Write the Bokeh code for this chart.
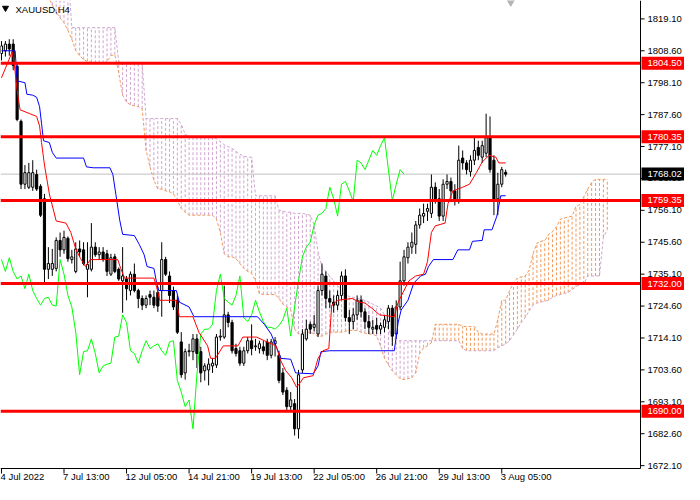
from bokeh.plotting import figure
from bokeh.models import Range1d
from bokeh.core.properties import value
from bokeh.embed import file_html
from bokeh.resources import INLINE

FONT = "Liberation Sans"

symbol = "XAUUSD,H4"

opens = [1807.7, 1808.6, 1810.8, 1810.8, 1803.5, 1785.4, 1764.7, 1763.7, 1763.7, 1767.9,
         1764.0, 1759.9, 1736.7, 1736.7, 1737.0, 1746.2, 1743.1, 1746.9, 1739.9, 1736.0,
         1743.4, 1743.1, 1736.7, 1736.7, 1744.0, 1741.5, 1742.4, 1741.8, 1735.1, 1740.8,
         1736.7, 1732.9, 1733.5, 1729.7, 1735.1, 1729.7, 1727.1, 1724.9, 1728.4, 1727.5,
         1729.1, 1729.7, 1739.9, 1734.5, 1729.7, 1726.5, 1712.8, 1702.6, 1709.6, 1709.6,
         1713.8, 1709.6, 1703.3, 1703.6, 1704.9, 1705.2, 1714.4, 1714.4, 1721.7, 1719.2,
         1710.6, 1709.9, 1705.8, 1709.9, 1713.2, 1711.2, 1710.6, 1711.2, 1712.8, 1708.4,
         1712.2, 1708.4, 1702.6, 1696.9, 1691.5, 1692.5, 1684.2, 1703.6, 1713.8, 1718.6,
         1717.6, 1715.4, 1729.7, 1734.5, 1727.1, 1725.9, 1724.9, 1728.1, 1734.5, 1720.8,
         1719.5, 1721.7, 1726.5, 1722.7, 1719.5, 1717.0, 1718.2, 1717.0, 1717.6, 1719.5,
         1723.9, 1715.4, 1724.3, 1732.9, 1740.5, 1744.0, 1744.9, 1751.3, 1754.2, 1755.8,
         1755.1, 1763.7, 1759.9, 1754.2, 1764.7, 1765.6, 1762.5, 1759.3, 1773.3, 1771.7,
         1768.8, 1772.6, 1776.8, 1773.6, 1774.9, 1780.0, 1772.6, 1759.9, 1764.7, 1768.6]

highs = [1811.8, 1811.8, 1812.4, 1812.4, 1804.5, 1786.0, 1771.0, 1771.7, 1772.6, 1769.5,
         1764.7, 1761.5, 1744.0, 1743.4, 1747.2, 1748.8, 1749.4, 1747.5, 1743.1, 1745.6,
         1746.2, 1745.6, 1745.6, 1751.9, 1745.6, 1744.0, 1744.0, 1743.1, 1741.8, 1741.8,
         1737.3, 1744.0, 1734.5, 1736.0, 1738.6, 1730.3, 1728.1, 1728.1, 1729.7, 1729.7,
         1731.0, 1745.6, 1740.8, 1736.0, 1731.0, 1728.1, 1716.0, 1710.6, 1712.2, 1715.4,
         1715.4, 1711.2, 1705.8, 1707.4, 1707.4, 1715.4, 1717.0, 1731.3, 1722.7, 1720.1,
         1712.2, 1711.2, 1711.2, 1714.4, 1718.6, 1713.8, 1713.2, 1713.2, 1713.8, 1713.8,
         1714.4, 1709.9, 1704.2, 1697.9, 1696.3, 1694.0, 1703.6, 1717.0, 1720.1, 1719.5,
         1721.7, 1731.3, 1738.6, 1736.0, 1729.7, 1728.1, 1729.7, 1736.0, 1736.7, 1723.3,
         1723.9, 1728.1, 1728.1, 1723.9, 1721.7, 1720.1, 1720.8, 1719.2, 1721.7, 1724.9,
         1724.9, 1726.5, 1739.2, 1743.1, 1745.6, 1748.8, 1752.6, 1756.7, 1758.3, 1758.3,
         1767.9, 1765.3, 1763.1, 1766.3, 1767.9, 1766.9, 1764.7, 1777.4, 1775.8, 1772.6,
         1774.2, 1780.0, 1779.0, 1779.0, 1787.9, 1787.0, 1774.2, 1768.5, 1770.4, 1769.5]

lows = [1805.4, 1806.7, 1807.0, 1802.2, 1785.4, 1763.1, 1763.1, 1763.1, 1762.5, 1762.5,
        1753.9, 1732.2, 1733.5, 1734.5, 1736.0, 1740.8, 1741.8, 1739.2, 1738.6, 1735.4,
        1740.8, 1738.0, 1727.5, 1736.0, 1740.8, 1739.9, 1739.2, 1734.5, 1734.5, 1735.4,
        1732.9, 1722.4, 1726.5, 1728.1, 1729.1, 1723.9, 1723.3, 1723.9, 1724.9, 1723.9,
        1722.7, 1721.1, 1734.5, 1725.6, 1723.3, 1715.4, 1701.0, 1700.4, 1708.0, 1706.8,
        1704.2, 1699.5, 1700.1, 1698.5, 1702.6, 1704.2, 1713.2, 1713.8, 1717.6, 1709.0,
        1708.0, 1704.9, 1704.9, 1709.0, 1708.4, 1709.9, 1709.0, 1708.7, 1706.8, 1707.4,
        1708.0, 1699.2, 1695.3, 1689.9, 1689.9, 1682.0, 1681.0, 1702.6, 1713.2, 1715.4,
        1716.3, 1714.4, 1728.1, 1723.9, 1723.9, 1722.4, 1723.3, 1726.5, 1719.5, 1715.4,
        1717.0, 1720.1, 1720.8, 1717.0, 1715.4, 1715.4, 1715.4, 1715.4, 1716.0, 1717.0,
        1711.5, 1713.8, 1723.3, 1731.3, 1738.6, 1741.8, 1741.8, 1750.1, 1751.9, 1752.6,
        1753.6, 1758.3, 1752.6, 1752.6, 1763.1, 1759.9, 1757.7, 1758.3, 1769.5, 1767.9,
        1767.2, 1771.0, 1772.6, 1771.7, 1773.6, 1768.5, 1754.5, 1754.5, 1763.7, 1767.2]

closes = [1810.2, 1810.8, 1809.2, 1803.8, 1786.0, 1764.7, 1768.5, 1768.5, 1768.5, 1763.1,
          1754.5, 1736.7, 1738.6, 1738.6, 1746.2, 1743.1, 1747.2, 1740.2, 1740.8, 1743.4,
          1742.4, 1738.6, 1738.3, 1744.0, 1741.5, 1742.4, 1739.9, 1736.0, 1740.5, 1736.0,
          1733.5, 1734.5, 1730.3, 1735.1, 1729.7, 1727.1, 1724.9, 1727.1, 1727.5, 1724.9,
          1724.6, 1739.9, 1735.1, 1728.1, 1724.3, 1716.0, 1702.0, 1709.6, 1709.9, 1713.8,
          1709.0, 1702.6, 1704.9, 1705.5, 1705.8, 1714.4, 1714.7, 1721.7, 1719.2, 1709.9,
          1709.0, 1705.8, 1709.9, 1713.2, 1710.6, 1711.5, 1712.2, 1709.9, 1708.4, 1712.8,
          1713.2, 1700.1, 1696.3, 1691.5, 1693.7, 1684.2, 1702.0, 1715.4, 1717.0, 1717.0,
          1718.6, 1729.7, 1735.1, 1727.1, 1725.9, 1724.9, 1728.1, 1734.5, 1720.8, 1719.5,
          1721.7, 1726.5, 1722.7, 1719.5, 1717.6, 1717.6, 1717.0, 1718.2, 1720.1, 1723.9,
          1714.7, 1724.3, 1732.9, 1740.8, 1744.0, 1745.6, 1751.3, 1754.5, 1755.1, 1756.7,
          1763.7, 1759.9, 1754.2, 1764.7, 1765.6, 1762.5, 1759.0, 1772.6, 1771.7, 1769.5,
          1772.6, 1775.8, 1774.2, 1777.4, 1780.0, 1769.5, 1759.3, 1764.7, 1769.5, 1768.0]

# Ichimoku lines (vertices: bar position, price)
tenkan_bar = [0, 2.75, 3.25, 4, 4.75, 7.25, 9, 9.75, 10.25, 11, 12.25, 14, 16.5, 17.75, 19,
              20.25, 21.5, 22.75, 29.75, 30.5, 31.5, 39, 39.75, 40.5, 44.75, 45.5, 49, 50.5,
              52.75, 53.5, 54.75, 56.75, 60.5, 61.75, 65.25, 67.25, 70.25, 71.5, 72.75, 74.25,
              75.5, 76.5, 77.25, 79.75, 81, 82.25, 83.75, 84.5, 86, 89.75, 91.5, 93, 94.75,
              96.75, 100.5, 101.5, 102.75, 104.25, 106, 108, 109, 110, 111, 113.5, 114.25,
              115.5, 118, 119.75, 121.5, 123, 124.75, 126.5, 127.25, 129]
tenkan_val = [1799.7, 1808.3, 1804.5, 1795.6, 1789.2, 1787.9, 1787.0, 1783.8, 1778.4, 1771.0,
              1761.5, 1752.6, 1751.9, 1748.8, 1743.4, 1740.2, 1737.6, 1739.9, 1739.9, 1737.0,
              1733.8, 1733.8, 1730.6, 1726.5, 1726.5, 1721.1, 1721.1, 1716.0, 1711.5, 1707.4,
              1707.4, 1711.5, 1711.5, 1714.4, 1714.4, 1713.2, 1711.5, 1706.5, 1703.3, 1701.0,
              1697.9, 1699.5, 1701.0, 1701.7, 1707.4, 1709.9, 1710.6, 1724.9, 1726.5, 1727.1,
              1725.9, 1725.6, 1723.9, 1721.7, 1721.1, 1725.9, 1729.1, 1732.9, 1734.5, 1735.1,
              1739.2, 1748.8, 1751.0, 1751.9, 1758.3, 1762.5, 1763.7, 1764.7, 1768.5, 1772.0,
              1774.2, 1773.6, 1771.7, 1771.7]

kijun_bar = [0, 3.5, 4, 6, 6.5, 8, 9, 9.75, 10.25, 10.75, 12.25, 13, 14, 21, 21.75, 23.5,
             27.75, 28.5, 29.25, 30.25, 31, 34, 35.25, 36.5, 37.25, 39, 39.75, 40.25, 44.75,
             45.5, 48, 49.25, 65.5, 67.25, 69, 70.5, 71.5, 74, 75.25, 79.75, 81, 81.75, 84,
             100.5, 101.5, 102.25, 104, 105.5, 107.25, 108.5, 109.25, 110.5, 115.5, 116.75,
             119.75, 120.5, 123, 123.5, 125.5, 126.75, 127.75, 129]
kijun_val = [1808.6, 1808.6, 1798.7, 1798.1, 1794.3, 1794.0, 1793.3, 1790.2, 1784.7, 1779.0,
             1778.4, 1775.2, 1773.3, 1773.3, 1770.4, 1770.1, 1770.1, 1767.9, 1761.5, 1752.9,
             1748.2, 1747.8, 1744.9, 1741.5, 1737.6, 1737.0, 1731.9, 1729.7, 1729.7, 1725.9,
             1724.3, 1721.1, 1721.1, 1718.6, 1715.4, 1710.6, 1707.4, 1707.1, 1702.6, 1702.3,
             1704.9, 1709.6, 1709.9, 1709.9, 1719.2, 1723.3, 1726.5, 1732.2, 1734.5, 1735.1,
             1737.6, 1739.9, 1739.9, 1743.1, 1743.1, 1745.9, 1746.2, 1749.7, 1749.7, 1754.2,
             1760.9, 1760.9]

# Senkou spans, one value per bar, starting at bar 11 (cloud is 26 bars ahead)
span_start = 11
span_a = [1829.9, 1826.4, 1823.6, 1821.3, 1819.4, 1817.8, 1815.3, 1812.4, 1808.6, 1807.0,
          1805.7, 1805.1, 1804.8, 1804.5, 1804.5, 1804.5, 1805.1, 1807.0, 1807.3, 1801.3,
          1794.0, 1791.7, 1790.8, 1790.5, 1790.2, 1789.5, 1775.8, 1770.4, 1766.0, 1763.1,
          1763.1, 1762.5, 1762.2, 1761.5, 1759.3, 1756.7, 1755.5, 1754.5, 1754.5, 1754.5,
          1754.5, 1754.5, 1754.5, 1754.5, 1753.2, 1748.8, 1741.8, 1740.8, 1740.8, 1740.2,
          1738.6, 1737.0, 1736.0, 1735.4, 1732.9, 1728.7, 1728.4, 1728.4, 1728.4, 1728.4,
          1727.1, 1725.2, 1724.3, 1723.3, 1717.0, 1715.4, 1715.7, 1716.0, 1716.0, 1715.4,
          1714.7, 1714.7, 1715.4, 1716.0, 1716.0, 1716.0, 1716.0, 1716.3, 1716.6, 1716.6,
          1716.6, 1716.0, 1715.7, 1715.4, 1715.4, 1714.7, 1711.5, 1707.4, 1705.2, 1703.3,
          1702.0, 1700.7, 1700.4, 1700.7, 1701.0, 1702.6, 1709.0, 1710.9, 1711.5, 1712.5,
          1718.6, 1718.6, 1718.6, 1718.6, 1718.6, 1718.6, 1718.6, 1717.9, 1717.9, 1717.9,
          1717.9, 1716.0, 1715.4, 1715.4, 1715.4, 1715.4, 1720.1, 1726.5, 1726.5, 1729.7,
          1732.2, 1733.8, 1734.2, 1734.5, 1736.4, 1741.8, 1745.3, 1745.9, 1746.2, 1748.2,
          1749.1, 1750.7, 1753.2, 1753.6, 1753.9, 1754.2, 1757.4, 1758.0, 1760.6, 1763.1,
          1765.3, 1766.3, 1766.3, 1766.3, 1766.3]
span_b = [1834.7, 1834.7, 1834.7, 1834.7, 1834.7, 1834.7, 1834.7, 1816.2, 1816.2, 1816.2,
          1816.2, 1816.2, 1816.2, 1816.2, 1816.2, 1816.2, 1816.2, 1816.2, 1816.2, 1805.1,
          1804.8, 1804.8, 1804.8, 1804.8, 1804.8, 1804.5, 1786.3, 1786.3, 1786.3, 1786.3,
          1786.3, 1786.3, 1786.3, 1786.3, 1786.3, 1784.4, 1781.2, 1780.3, 1780.0, 1780.0,
          1780.0, 1780.0, 1780.0, 1780.0, 1779.7, 1778.7, 1777.7, 1777.1, 1776.5, 1775.5,
          1774.6, 1773.9, 1773.6, 1773.6, 1760.9, 1760.9, 1760.9, 1760.9, 1760.9, 1760.9,
          1756.1, 1755.8, 1755.5, 1755.5, 1755.1, 1755.1, 1755.1, 1754.8, 1754.5, 1751.3,
          1742.4, 1737.6, 1736.0, 1734.5, 1732.9, 1731.3, 1729.7, 1728.1, 1727.8, 1727.5,
          1727.1, 1726.8, 1726.5, 1725.9, 1725.2, 1724.6, 1723.9, 1721.7, 1717.0, 1714.4,
          1713.2, 1713.2, 1713.2, 1713.2, 1713.2, 1713.2, 1713.2, 1713.2, 1713.2, 1713.2,
          1713.2, 1713.2, 1713.2, 1713.2, 1713.2, 1713.2, 1713.2, 1710.6, 1709.9, 1709.9,
          1709.9, 1709.9, 1709.9, 1709.9, 1709.9, 1709.9, 1710.9, 1711.5, 1712.2, 1713.2,
          1715.1, 1717.0, 1719.2, 1720.8, 1723.0, 1724.9, 1725.6, 1725.9, 1726.2, 1726.5,
          1727.5, 1728.1, 1728.4, 1728.7, 1729.1, 1730.0, 1731.0, 1731.6, 1731.9, 1734.5,
          1734.5, 1734.5, 1734.5, 1747.2, 1749.7]
chikou_shift = 26

levels = [1804.50, 1780.35, 1759.35, 1732.00, 1690.00]
bid = 1768.02

price_ticks = [1672.10, 1682.60, 1693.10, 1703.60, 1714.10, 1724.60, 1735.10, 1745.60,
               1756.10, 1766.60, 1777.10, 1787.60, 1798.10, 1808.60, 1819.10]
x_tick_bars = [0, 16, 32, 48, 64, 80, 96, 112, 128]
x_tick_labels = ["4 Jul 2022", "7 Jul 13:00", "12 Jul 05:00", "14 Jul 21:00", "19 Jul 13:00",
                 "22 Jul 05:00", "26 Jul 21:00", "29 Jul 13:00", "3 Aug 05:00"]

# ---- layout: the price area is the left/top part of the canvas, the scales sit
# ---- in the right (price) and bottom (time) margins
W, H = 684, 484
CHART_W, CHART_H = 640, 468
x_start, x_chart_end = -0.25, 163.5          # visible bar span of the price area
y_chart_start, y_end = 1671.15, 1825.15      # visible price span of the price area
PX_X = (x_chart_end - x_start) / CHART_W     # bars per pixel
PX_Y = (y_end - y_chart_start) / CHART_H     # price per pixel
x_full_end = x_start + W * PX_X
y_full_start = y_end - H * PX_Y

SPAN_A_COL = "#F2995A"
SPAN_B_COL = "#CFA6CF"

n = len(closes)
bars = list(range(n))

p = figure(width=W, height=H, output_backend="svg", toolbar_location=None,
           x_range=Range1d(x_start, x_full_end), y_range=Range1d(y_full_start, y_end),
           x_axis_location=None, y_axis_location=None, min_border=0)
p.outline_line_color = None
p.grid.visible = False
p.background_fill_color = "white"
p.border_fill_color = "white"

# Ichimoku cloud (vertical dashed hatch)
cloud_x = list(range(span_start, span_start + len(span_a)))
hatch_col = [SPAN_A_COL if a >= b else SPAN_B_COL for a, b in zip(span_a, span_b)]
cloud_top = [min(max(a, b), y_end) for a, b in zip(span_a, span_b)]
cloud_bot = [min(a, b) for a, b in zip(span_a, span_b)]
p.segment(x0=cloud_x, y0=cloud_bot, x1=cloud_x, y1=cloud_top, line_color=hatch_col,
          line_width=1, line_dash="3 2")
p.line(cloud_x, span_a, line_color=SPAN_A_COL, line_width=1, line_dash="3 2")
p.line(cloud_x, span_b, line_color=SPAN_B_COL, line_width=1, line_dash="3 2")

# bid line
p.segment(x0=[x_start], y0=[bid], x1=[x_chart_end], y1=[bid], line_color="#C0C0C0", line_width=1)

# candles
src = dict(
    x=bars, h=highs, l=lows,
    top=[max(o, c) for o, c in zip(opens, closes)],
    bottom=[min(o, c) for o, c in zip(opens, closes)],
    fill=["white" if c >= o else "black" for o, c in zip(opens, closes)],
)
p.segment(x0=src["x"], y0=src["h"], x1=src["x"], y1=src["l"], line_color="black", line_width=1)
p.vbar(x=src["x"], width=0.55, top=src["top"], bottom=src["bottom"], fill_color=src["fill"],
       line_color="black", line_width=1)

# chikou, kijun, tenkan
p.line([b - chikou_shift for b in bars[chikou_shift:]], closes[chikou_shift:],
       line_color="#00FF00", line_width=1)
p.line(kijun_bar, kijun_val, line_color="#0000FF", line_width=1)
p.line(tenkan_bar, tenkan_val, line_color="#FF0000", line_width=1)

# horizontal levels
p.segment(x0=[x_start] * len(levels), y0=levels, x1=[x_chart_end] * len(levels), y1=levels,
          line_color="#FF0000", line_width=3)

# chart shift marker
p.scatter(x=[n + 0.3], y=[y_end], marker="inverted_triangle", size=10,
          fill_color="#B4B4B4", line_color="#B4B4B4")

# ---- price scale (right)
p.segment(x0=[x_chart_end], y0=[y_chart_start], x1=[x_chart_end], y1=[y_end],
          line_color="black", line_width=1)
p.segment(x0=[x_chart_end] * len(price_ticks), y0=price_ticks,
          x1=[x_chart_end + 4 * PX_X] * len(price_ticks), y1=price_ticks,
          line_color="black", line_width=1)
p.text(x=[x_chart_end + 7 * PX_X] * len(price_ticks), y=price_ticks,
       text=[f"{t:.2f}" for t in price_ticks], text_align="left", text_baseline="middle",
       text_font=value(FONT), text_font_size=value("9.5px"), text_color="black")

# ---- time scale (bottom)
p.segment(x0=[x_start], y0=[y_chart_start], x1=[x_chart_end], y1=[y_chart_start],
          line_color="black", line_width=1)
p.segment(x0=x_tick_bars, y0=[y_chart_start] * len(x_tick_bars), x1=x_tick_bars,
          y1=[y_chart_start - 5 * PX_Y] * len(x_tick_bars), line_color="black", line_width=1)
p.text(x=[b - 1 * PX_X for b in x_tick_bars], y=[y_chart_start - 2 * PX_Y] * len(x_tick_bars),
       text=x_tick_labels, text_align="left", text_baseline="top",
       text_font=value(FONT), text_font_size=value("9.5px"), text_color="black")

# ---- price boxes on the scale
box_vals = levels + [bid]
box_cols = ["#FF0000"] * len(levels) + ["#000000"]
p.quad(left=[x_chart_end + 1 * PX_X] * len(box_vals), right=[x_full_end] * len(box_vals),
       top=[v + 6.5 * PX_Y for v in box_vals], bottom=[v - 6.5 * PX_Y for v in box_vals],
       fill_color=box_cols, line_color=None)
p.text(x=[x_chart_end + 7 * PX_X] * len(box_vals), y=box_vals,
       text=[f"{v:.2f}" for v in box_vals], text_align="left", text_baseline="middle",
       text_font=value(FONT), text_font_size=value("9.5px"), text_color="white")

# ---- symbol title
p.scatter(x=[x_start + 5 * PX_X], y=[y_end - 7.5 * PX_Y], marker="inverted_triangle", size=6,
          fill_color="black", line_color="black")
p.text(x=[x_start + 15 * PX_X], y=[y_end - 3 * PX_Y], text=[symbol], text_align="left",
       text_baseline="top", text_font=value(FONT), text_font_size=value("9.5px"),
       text_color="black")

open("out.html", "w").write(file_html(p, INLINE))
